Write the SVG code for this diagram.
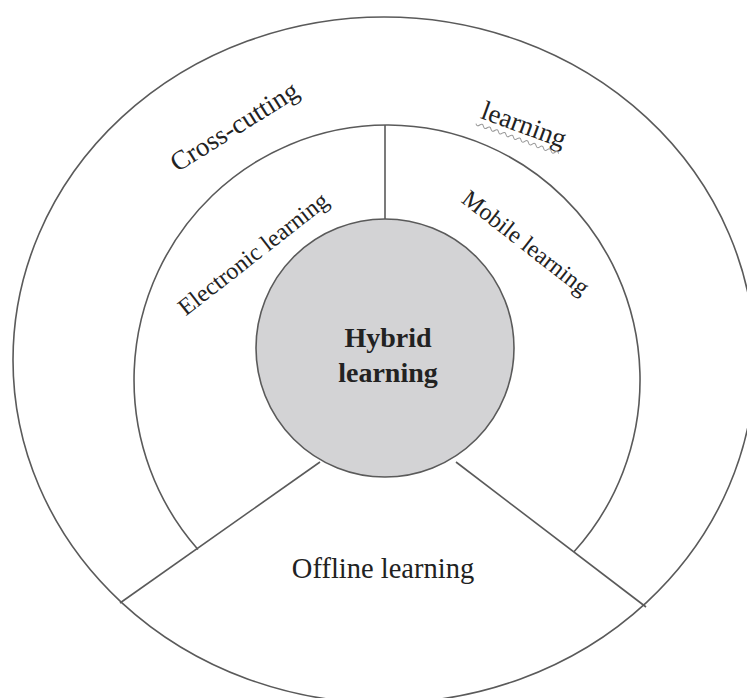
<svg xmlns="http://www.w3.org/2000/svg" width="747" height="698" viewBox="0 0 747 698">
<style>
.ln{fill:none;stroke:#5a5a5a;stroke-width:1.6}
.t{font-family:"Liberation Serif","Times New Roman",serif;fill:#222}
.lab{font-size:24px}
.big{font-size:27px}
.hyb{font-size:28px;font-weight:bold}
</style>
<rect width="747" height="698" fill="#ffffff"/>
<g id="outer-ring">
<ellipse class="ln" cx="384" cy="360" rx="371" ry="343"/>
</g>
<g id="middle-ring">
<path class="ln" d="M198,549.5 A253,255 0 1 1 574,551.8"/>
</g>
<g id="connectors">
<line class="ln" x1="385" y1="125" x2="385" y2="219"/>
<line class="ln" x1="320" y1="462" x2="120" y2="603"/>
<line class="ln" x1="456" y1="462" x2="646" y2="607"/>
</g>
<g id="hybrid">
<circle cx="385" cy="348" r="129" fill="#d3d3d5" stroke="#5a5a5a" stroke-width="1.6"/>
<text class="t hyb" x="388" y="347" text-anchor="middle">Hybrid</text>
<text class="t hyb" x="388" y="382" text-anchor="middle">learning</text>
</g>
<g id="cross-cutting">
<text class="t big" x="239" y="134" text-anchor="middle" transform="rotate(-32 239 134)">Cross-cutting</text>
</g>
<g id="learning-top">
<text class="t big" x="521" y="133" text-anchor="middle" transform="rotate(20 521 133)">learning</text>
<path d="M478,118 q2,3 4,0 t4,0 t4,0 t4,0 t4,0 t4,0 t4,0 t4,0 t4,0 t4,0 t4,0 t4,0 t4,0 t4,0 t4,0 t4,0 t4,0 t4,0 t4,0 t4,0 t4,0 t4,0" fill="none" stroke="#999" stroke-width="1" transform="rotate(20 478 118) translate(0 6)"/>
</g>
<g id="electronic">
<text class="t lab" x="258" y="260" text-anchor="middle" transform="rotate(-38 258 260)">Electronic learning</text>
</g>
<g id="mobile">
<text class="t lab" x="521" y="249" text-anchor="middle" transform="rotate(38 521 249)">Mobile learning</text>
</g>
<g id="offline">
<text class="t big" x="383" y="578" text-anchor="middle" style="font-size:28.5px">Offline learning</text>
</g>
</svg>
